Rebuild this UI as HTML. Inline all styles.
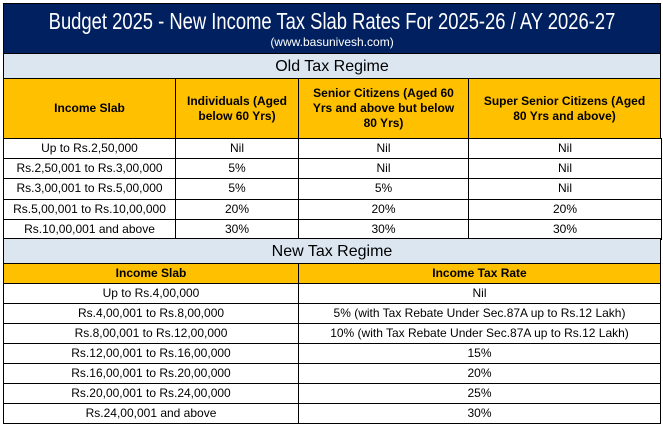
<!DOCTYPE html>
<html><head><meta charset="utf-8"><style>
body{margin:0;width:663px;height:427px;background:#fff;position:relative;overflow:hidden;font-family:"Liberation Sans",sans-serif;}
.c{position:absolute;box-sizing:border-box;border:1px solid #000;display:flex;align-items:center;justify-content:center;text-align:center;font-size:12px;color:#000;line-height:15px;}
.h{background:#ffc000;font-weight:bold;}
.s{background:#dce6f1;font-size:16px;}
</style></head><body>
<div class="c" style="left:3px;top:3px;width:658px;height:51px;background:#002060;color:#fff;display:block;border-color:#000">
<div style="position:absolute;left:50%;top:5px;font-size:23px;line-height:25px;transform:translateX(-50%) scaleX(0.8);white-space:nowrap">Budget 2025 - New Income Tax Slab Rates For 2025-26 / AY 2026-27</div>
<div style="position:absolute;left:0;right:0;top:31px;font-size:12px;line-height:14px">(www.basunivesh.com)</div></div>
<div class="c s" style="left:3px;top:53px;width:658px;height:26px">Old Tax Regime</div>
<div class="c h" style="left:3px;top:78px;width:173px;height:61px">Income Slab</div>
<div class="c h" style="left:175px;top:78px;width:124px;height:61px">Individuals (Aged below 60 Yrs)</div>
<div class="c h" style="left:298px;top:78px;width:171px;height:61px;padding:0 12px">Senior Citizens (Aged 60 Yrs and above but below 80 Yrs)</div>
<div class="c h" style="left:468px;top:78px;width:193px;height:61px;padding:0 14px">Super Senior Citizens (Aged 80 Yrs and above)</div>
<div id="old"></div>
<div class="c s" style="left:3px;top:238px;width:658px;height:26px">New Tax Regime</div>
<div class="c h" style="left:3px;top:263px;width:296px;height:21px">Income Slab</div>
<div class="c h" style="left:298px;top:263px;width:363px;height:21px">Income Tax Rate</div>
<script>
var o=[["Up to Rs.2,50,000","Nil","Nil","Nil"],["Rs.2,50,001 to Rs.3,00,000","5%","Nil","Nil"],["Rs.3,00,001 to Rs.5,00,000","5%","5%","Nil"],["Rs.5,00,001 to Rs.10,00,000","20%","20%","20%"],["Rs.10,00,001 and above","30%","30%","30%"]];
var xs=[3,175,298,468,661],h="";
o.forEach(function(r,i){var t=138+i*20.2;for(var j=0;j<4;j++)h+='<div class="c" style="left:'+xs[j]+'px;top:'+t+'px;width:'+(xs[j+1]-xs[j]+1)+'px;height:21.2px">'+r[j]+'</div>';});
var n=[["Up to Rs.4,00,000","Nil"],["Rs.4,00,001 to Rs.8,00,000","5% (with Tax Rebate Under Sec.87A up to Rs.12 Lakh)"],["Rs.8,00,001 to Rs.12,00,000","10% (with Tax Rebate Under Sec.87A up to Rs.12 Lakh)"],["Rs.12,00,001 to Rs.16,00,000","15%"],["Rs.16,00,001 to Rs.20,00,000","20%"],["Rs.20,00,001 to Rs.24,00,000","25%"],["Rs.24,00,001 and above","30%"]];
n.forEach(function(r,i){var t=283+i*20;h+='<div class="c" style="left:3px;top:'+t+'px;width:296px;height:21px">'+r[0]+'</div><div class="c" style="left:298px;top:'+t+'px;width:363px;height:21px">'+r[1]+'</div>';});
document.getElementById("old").innerHTML=h;
</script>
</body></html>
